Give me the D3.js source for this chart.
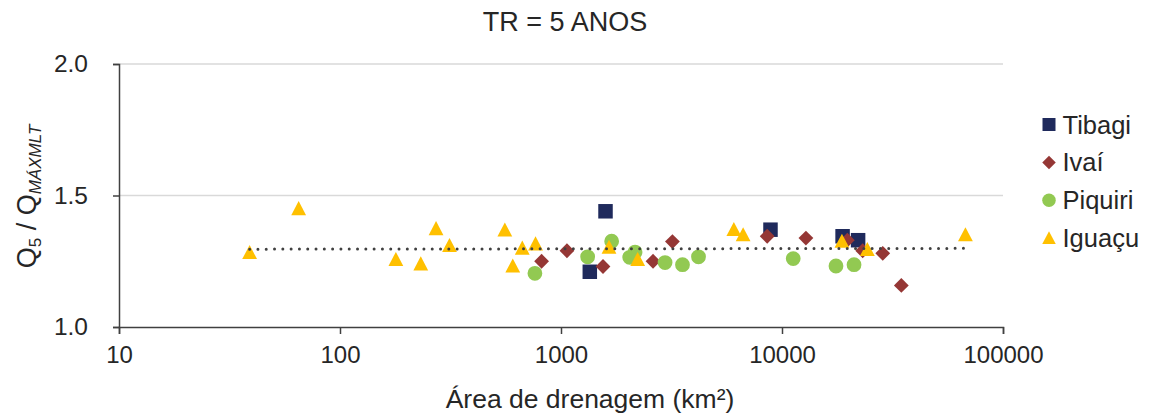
<!DOCTYPE html>
<html>
<head>
<meta charset="utf-8">
<script src="https://cdn.jsdelivr.net/npm/d3@7"></script>
<style>
  html, body { margin: 0; padding: 0; background: #fff; }
  svg { display: block; font-family: "Liberation Sans", Arial, sans-serif; }
</style>
</head>
<body>
<svg id="chart" width="1153" height="416"></svg>
<script>
// Drainage area (km²) and Q5 / QMÁXMLT ratio for each basin
const tibagiArea  = [1350, 1590, 8870, 18800, 22100];
const tibagiRatio = [1.21, 1.44, 1.37, 1.345, 1.33];

const ivaiArea  = [817, 1064, 1549, 2609, 3193, 8570, 12830, 19750, 23180, 28570, 34670];
const ivaiRatio = [1.25, 1.29, 1.23, 1.25, 1.325, 1.345, 1.338, 1.33, 1.29, 1.28, 1.158];

const piquiriArea  = [762, 1320, 1695, 2046, 2163, 2957, 3546, 4190, 11240, 17550, 21180];
const piquiriRatio = [1.204, 1.267, 1.326, 1.265, 1.285, 1.245, 1.237, 1.267, 1.26, 1.232, 1.237];

const iguacuArea  = [39, 65, 179, 232, 272, 313, 557, 605, 668, 767, 1649, 2223, 6055, 6670, 18670, 24330, 67610];
const iguacuRatio = [1.283, 1.45, 1.257, 1.24, 1.374, 1.31, 1.369, 1.232, 1.30, 1.316, 1.303, 1.257, 1.371, 1.351, 1.326, 1.295, 1.351];

// Trend line end points (area, ratio)
const trendArea  = [39, 67610];
const trendRatio = [1.296, 1.299];

const xTicks = [10, 100, 1000, 10000, 100000];
const yTicks = [1.0, 1.5, 2.0];

const seriesNames = ["Tibagi", "Ivaí", "Piquiri", "Iguaçu"];
const seriesColors = ["#1f2a5c", "#953735", "#92c952", "#ffc000"];

const series = [
  { name: seriesNames[0], color: seriesColors[0], shape: "square",   area: tibagiArea,  ratio: tibagiRatio },
  { name: seriesNames[1], color: seriesColors[1], shape: "diamond",  area: ivaiArea,    ratio: ivaiRatio },
  { name: seriesNames[2], color: seriesColors[2], shape: "circle",   area: piquiriArea, ratio: piquiriRatio },
  { name: seriesNames[3], color: seriesColors[3], shape: "triangle", area: iguacuArea,  ratio: iguacuRatio }
];

const svg = d3.select("#chart");
const plot = { left: 119, right: 1003, top: 64, bottom: 327 };

const x = d3.scaleLog().domain([10, 100000]).range([plot.left, plot.right]);
const y = d3.scaleLinear().domain([1.0, 2.0]).range([plot.bottom, plot.top]);

const textColor = "#262626";

// Marker path for a given shape and size (s = nominal width)
function markerPath(shape, s) {
  const h = s / 2;
  switch (shape) {
    case "square":   return `M${-h},${-h}H${h}V${h}H${-h}Z`;
    case "diamond":  return `M0,${-h}L${h},0L0,${h}L${-h},0Z`;
    case "circle":   return `M${h},0A${h},${h} 0 1,1 ${-h},0A${h},${h} 0 1,1 ${h},0Z`;
    case "triangle": {
      const th = s * 0.95;
      return `M0,${-th / 2 - 0.5}L${h},${th / 2 - 0.5}L${-h},${th / 2 - 0.5}Z`;
    }
  }
}

// Horizontal gridlines
svg.append("g")
  .selectAll("line")
  .data(yTicks.filter(d => d > 1.0))
  .join("line")
  .attr("x1", plot.left).attr("x2", plot.right)
  .attr("y1", d => y(d)).attr("y2", d => y(d))
  .attr("stroke", "#d9d9d9").attr("stroke-width", 1.5);

// Y axis
const yAxis = svg.append("g")
  .attr("transform", `translate(${plot.left},0)`)
  .call(d3.axisLeft(y).tickValues(yTicks).tickFormat(d3.format(".1f")).tickSize(6).tickPadding(25));
yAxis.select(".domain").attr("stroke", "#404040").attr("stroke-width", 1.5);
yAxis.selectAll(".tick line").attr("stroke", "#404040").attr("stroke-width", 1.5);
yAxis.selectAll(".tick text")
  .attr("fill", textColor).attr("font-size", 24.5)
  .attr("font-family", "Liberation Sans, Arial, sans-serif");

// X axis
const xAxis = svg.append("g")
  .attr("transform", `translate(0,${plot.bottom})`)
  .call(d3.axisBottom(x).tickValues(xTicks).tickFormat(d3.format("d")).tickSize(7).tickPadding(12));
xAxis.select(".domain").attr("stroke", "#404040").attr("stroke-width", 1.5);
xAxis.selectAll(".tick line").attr("stroke", "#404040").attr("stroke-width", 1.5);
xAxis.selectAll(".tick text")
  .attr("fill", textColor).attr("font-size", 24)
  .attr("font-family", "Liberation Sans, Arial, sans-serif");

// Data markers
series.forEach(s => {
  svg.append("g")
    .selectAll("path")
    .data(s.area.map((a, i) => ({ a, r: s.ratio[i] })))
    .join("path")
    .attr("d", markerPath(s.shape, s.shape === "square" ? 14.5 : 14.8))
    .attr("transform", d => `translate(${x(d.a)},${y(d.r)})`)
    .attr("fill", s.color);
});

// Dotted trend line
svg.append("path")
  .datum(trendArea.map((a, i) => [a, trendRatio[i]]))
  .attr("d", d3.line().x(d => x(d[0])).y(d => y(d[1])))
  .attr("fill", "none")
  .attr("stroke", "#404040")
  .attr("stroke-width", 3)
  .attr("stroke-linecap", "round")
  .attr("stroke-dasharray", "0 8.3");

// Chart title
svg.append("text")
  .attr("x", 565).attr("y", 31)
  .attr("text-anchor", "middle")
  .attr("fill", textColor).attr("font-size", 27)
  .text("TR = 5 ANOS");

// X axis title
svg.append("text")
  .attr("x", 590).attr("y", 408)
  .attr("text-anchor", "middle")
  .attr("fill", textColor).attr("font-size", 26.5)
  .text("Área de drenagem (km²)");

// Y axis title: Q5 / QMÁXMLT
const yTitle = svg.append("text")
  .attr("transform", `translate(36,${(plot.top + plot.bottom) / 2 + 1}) rotate(-90)`)
  .attr("text-anchor", "middle")
  .attr("fill", textColor).attr("font-size", 27);
yTitle.append("tspan").text("Q");
yTitle.append("tspan").attr("font-size", 17).attr("dy", 5).text("5");
yTitle.append("tspan").attr("dy", -5).text(" / Q");
yTitle.append("tspan").attr("font-size", 17).attr("font-style", "italic").attr("dy", 5).text("MÁXMLT");

// Legend
const legend = svg.append("g").attr("transform", "translate(1049,124.5)");
const rows = legend.selectAll("g")
  .data(series)
  .join("g")
  .attr("transform", (d, i) => `translate(0,${i * 37.9})`);
rows.append("path")
  .attr("d", d => markerPath(d.shape, d.shape === "square" ? 13 : 13.5))
  .attr("fill", d => d.color);
rows.append("text")
  .attr("x", 13.5).attr("y", 9)
  .attr("fill", textColor).attr("font-size", 25.5)
  .text(d => d.name);
</script>
</body>
</html>
